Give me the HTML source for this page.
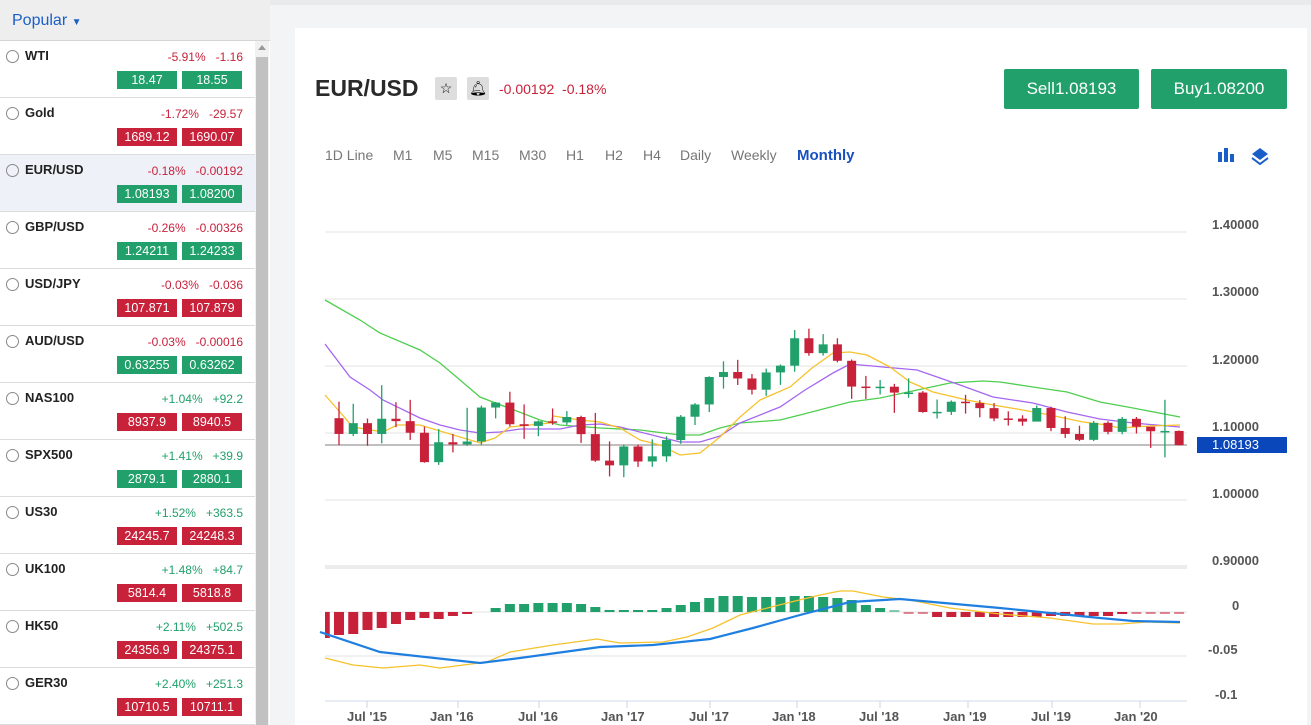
<!DOCTYPE html>
<html><head><meta charset="utf-8"><style>
*{box-sizing:border-box;margin:0;padding:0}
body{width:1311px;height:725px;overflow:hidden;background:#f3f4f6;font-family:"Liberation Sans",sans-serif;position:relative}
.side{position:absolute;left:0;top:0;width:270px;height:725px;background:#fff}
.hdr{position:absolute;left:0;top:0;width:270px;height:41px;background:#eeeeee;border-bottom:1px solid #d5d5d5}
.hdr span{position:absolute;left:12px;top:12px;font-size:16px;color:#1a5fc8}
.row{position:absolute;left:0;width:255px;height:57px;border-bottom:1px solid #dcdcdc}
.row .rad{position:absolute;left:6px;top:9px;width:13px;height:13px;border:1px solid #888;border-radius:50%}
.row .nm{position:absolute;left:25px;top:7px;font-size:13px;font-weight:bold;color:#222}
.row .ch{position:absolute;right:12px;top:9px;font-size:12px}
.row .b{position:absolute;top:30px;width:60px;height:18px;color:#fff;font-size:12.5px;text-align:center;line-height:18px}
.g{background:#21a06b}.r{background:#c8213a}
.scr{position:absolute;left:255px;top:41px;width:14px;height:684px;background:#f1f1f1}
.thumb{position:absolute;left:256px;top:57px;width:12px;height:668px;background:#c1c1c1}
.panel{position:absolute;left:295px;top:28px;width:1012px;height:697px;background:#fff}
.t{position:absolute;white-space:nowrap}
.btn{position:absolute;top:69px;height:40px;background:#21a06b;color:#fff;font-size:17px;text-align:center;line-height:40px;border-radius:2px}
.tf{position:absolute;top:147px;font-size:14px;color:#777}
.ax{position:absolute;left:1212px;font-size:13px;font-weight:bold;color:#555}
.xl{position:absolute;top:709px;font-size:13px;font-weight:bold;color:#555}
</style></head><body>
<div style="position:absolute;left:270px;top:0;width:1041px;height:5px;background:#e9eaec"></div>
<div class="side">
<div class="hdr"><span>Popular <span style="position:static;font-size:10px">&#9660;</span></span></div>
</div>
<div class="scr"></div><div class="thumb"></div>
<div style="position:absolute;left:258px;top:45px;width:0;height:0;border-left:4px solid transparent;border-right:4px solid transparent;border-bottom:5px solid #999"></div>
<div id="rows"></div>
<div class="panel"></div>
<div class="t" style="left:315px;top:75px;font-size:23px;font-weight:bold;color:#2a2a2a">EUR/USD</div>
<div class="t" style="left:435px;top:77px;width:22px;height:23px;background:#ddd;border-radius:2px;text-align:center;font-size:14px;line-height:23px">☆</div>
<div class="t" style="left:467px;top:77px;width:22px;height:23px;background:#ddd;border-radius:2px;text-align:center;font-size:14px;line-height:23px">🔔︎</div>
<div class="t" style="left:499px;top:81px;font-size:14px;color:#c8213a">-0.00192&nbsp;&nbsp;-0.18%</div>
<div class="btn" style="left:1004px;width:135px">Sell1.08193</div>
<div class="btn" style="left:1151px;width:136px">Buy1.08200</div>
<div class="tf" style="left:325px">1D Line</div><div class="tf" style="left:393px">M1</div><div class="tf" style="left:433px">M5</div>
<div class="tf" style="left:472px">M15</div><div class="tf" style="left:519px">M30</div><div class="tf" style="left:566px">H1</div>
<div class="tf" style="left:605px">H2</div><div class="tf" style="left:643px">H4</div><div class="tf" style="left:680px">Daily</div>
<div class="tf" style="left:731px">Weekly</div><div class="tf" style="left:797px;color:#1a4fc0;font-weight:bold;font-size:15px;top:147px">Monthly</div>
<svg class="t" style="left:1216px;top:146px" width="60" height="22"><g fill="#1a5fc8"><rect x="2" y="6" width="4" height="10"/><rect x="8" y="2" width="4" height="14"/><rect x="14" y="8" width="4" height="8"/><path d="M44 2l8 6-8 6-8-6z"/><path d="M36 12l8 6 8-6" fill="none" stroke="#1a5fc8" stroke-width="2"/></g></svg>
<svg id="ch" class="t" style="left:0;top:0" width="1311" height="725"></svg>
<div class="ax" style="top:217px">1.40000</div><div class="ax" style="top:284px">1.30000</div><div class="ax" style="top:352px">1.20000</div>
<div class="ax" style="top:419px">1.10000</div><div class="ax" style="top:486px">1.00000</div><div class="ax" style="top:553px">0.90000</div>
<div class="t" style="left:1197px;top:437px;width:90px;height:16px;background:#0a47bb;color:#fff;font-size:13px;line-height:16px;padding-left:15px">1.08193</div>
<div class="ax" style="top:598px;left:1232px">0</div><div class="ax" style="top:642px;left:1208px">-0.05</div><div class="ax" style="top:687px;left:1215px">-0.1</div>
<div class="xl" style="left:347px">Jul '15</div><div class="xl" style="left:430px">Jan '16</div><div class="xl" style="left:518px">Jul '16</div>
<div class="xl" style="left:601px">Jan '17</div><div class="xl" style="left:689px">Jul '17</div><div class="xl" style="left:772px">Jan '18</div>
<div class="xl" style="left:859px">Jul '18</div><div class="xl" style="left:943px">Jan '19</div><div class="xl" style="left:1031px">Jul '19</div><div class="xl" style="left:1114px">Jan '20</div>
<script>
var rows=[["WTI","-5.91%","-1.16","18.47","18.55","g"],["Gold","-1.72%","-29.57","1689.12","1690.07","r"],["EUR/USD","-0.18%","-0.00192","1.08193","1.08200","g"],["GBP/USD","-0.26%","-0.00326","1.24211","1.24233","g"],["USD/JPY","-0.03%","-0.036","107.871","107.879","r"],["AUD/USD","-0.03%","-0.00016","0.63255","0.63262","g"],["NAS100","+1.04%","+92.2","8937.9","8940.5","r"],["SPX500","+1.41%","+39.9","2879.1","2880.1","g"],["US30","+1.52%","+363.5","24245.7","24248.3","r"],["UK100","+1.48%","+84.7","5814.4","5818.8","r"],["HK50","+2.11%","+502.5","24356.9","24375.1","r"],["GER30","+2.40%","+251.3","10710.5","10711.1","r"]];
var h="";rows.forEach(function(r,i){var c=r[1][0]=="+"?"#21a06b":"#c8213a";
h+='<div class="row" style="top:'+(41+i*57)+'px;'+(i==2?'background:#eef2f8':'background:#fff')+'"><div class="rad"></div><div class="nm">'+r[0]+'</div><div class="ch" style="color:'+c+'">'+r[1]+'&nbsp;&nbsp;&nbsp;'+r[2]+'</div><div class="b '+r[5]+'" style="left:117px">'+r[3]+'</div><div class="b '+r[5]+'" style="left:182px">'+r[4]+'</div></div>';});
document.getElementById("rows").innerHTML=h;
var d=[[1.1221,1.1467,1.0819,1.0986],[1.0986,1.1436,1.0955,1.1147],[1.1147,1.1216,1.0809,1.0985],[1.0985,1.1714,1.0846,1.1213],[1.1213,1.1459,1.1087,1.1177],[1.1177,1.1495,1.0897,1.1004],[1.1004,1.1095,1.0557,1.0565],[1.0565,1.1059,1.0524,1.0862],[1.0862,1.0985,1.0711,1.0830],[1.0830,1.1376,1.0809,1.0873],[1.0873,1.1410,1.0823,1.1380],[1.1380,1.1464,1.1218,1.1454],[1.1454,1.1616,1.1097,1.1131],[1.1131,1.1427,1.0912,1.1106],[1.1106,1.1186,1.0952,1.1174],[1.1174,1.1366,1.1123,1.1158],[1.1158,1.1327,1.1122,1.1239],[1.1239,1.1258,1.0852,1.0983],[1.0983,1.1300,1.0569,1.0588],[1.0588,1.0875,1.0352,1.0517],[1.0517,1.0829,1.0340,1.0799],[1.0799,1.0829,1.0494,1.0575],[1.0575,1.0906,1.0495,1.0652],[1.0652,1.0951,1.0570,1.0895],[1.0895,1.1268,1.0839,1.1243],[1.1243,1.1445,1.1119,1.1426],[1.1426,1.1846,1.1312,1.1836],[1.1836,1.2070,1.1662,1.1910],[1.1910,1.2092,1.1717,1.1814],[1.1814,1.1880,1.1574,1.1646],[1.1646,1.1961,1.1554,1.1904],[1.1904,1.2023,1.1718,1.2005],[1.2005,1.2537,1.1915,1.2414],[1.2414,1.2556,1.2153,1.2192],[1.2192,1.2476,1.2155,1.2323],[1.2323,1.2414,1.2055,1.2078],[1.2078,1.2097,1.1510,1.1693],[1.1693,1.1852,1.1508,1.1684],[1.1684,1.1791,1.1575,1.1691],[1.1691,1.1734,1.1301,1.1603],[1.1603,1.1815,1.1526,1.1604],[1.1604,1.1625,1.1302,1.1313],[1.1313,1.1500,1.1216,1.1316],[1.1316,1.1486,1.1269,1.1467],[1.1467,1.1570,1.1289,1.1446],[1.1446,1.1489,1.1234,1.1371],[1.1371,1.1448,1.1176,1.1217],[1.1217,1.1324,1.1111,1.1215],[1.1215,1.1265,1.1107,1.1170],[1.1170,1.1412,1.1181,1.1373],[1.1373,1.1393,1.1028,1.1075],[1.1075,1.1250,1.0926,1.0986],[1.0986,1.1109,1.0879,1.0898],[1.0898,1.1179,1.0880,1.1152],[1.1152,1.1175,1.0981,1.1017],[1.1017,1.1239,1.0981,1.1212],[1.1212,1.1239,1.0992,1.1094],[1.1094,1.1053,1.0778,1.1026],[1.1026,1.1496,1.0636,1.1031],[1.1031,1.1037,1.0815,1.0819]];
function Y(p){return 433-(p-1.1)*670}
var s="";
[232,299,366,433,500].forEach(function(y){s+='<line x1="325" x2="1187" y1="'+y+'" y2="'+y+'" stroke="#e3e3e3"/>'});
s+='<rect x="325" y="565" width="862" height="4" fill="#ececec"/>';
s+='<line x1="325" x2="1187" y1="612" y2="612" stroke="#e3e3e3"/><line x1="325" x2="1187" y1="656" y2="656" stroke="#e3e3e3"/><line x1="325" x2="1187" y1="701" y2="701" stroke="#d3dbe8"/>';
[367,458,539,627,710,797,880,968,1052,1140].forEach(function(x){s+='<line x1="'+x+'" x2="'+x+'" y1="701" y2="708" stroke="#c8d3e6"/>'});
s+='<line x1="325" x2="1187" y1="445" y2="445" stroke="#999" stroke-width="1.2"/>';
function pl(pts,c,w){return '<polyline fill="none" stroke="'+c+'" stroke-width="'+w+'" points="'+pts+'"/>'}
s+=pl("325,300 360,320 380,333 420,350 440,363 480,397 540,420 560,425 600,428 640,430 680,435 700,435 720,428 740,423 780,420 800,415 850,402 880,398 950,383 983,381 1000,382 1033,387 1067,392 1100,402 1133,408 1180,417","#4fce4f",1.3);
s+=pl("325,344 350,377 370,390 383,400 420,418 440,425 460,430 480,433 500,432 520,429 560,429 580,425 600,424 620,427 660,437 680,442 700,442 720,436 740,423 780,407 805,390 833,373 850,364 883,367 917,370 940,378 960,385 993,397 1033,403 1067,412 1100,419 1133,423 1180,427","#a566f0",1.3);
s+=pl("325,395 353,427 383,432 397,425 420,425 440,431 480,443 495,438 510,427 550,423 553,416 580,420 600,422 620,428 640,440 660,445 680,455 700,453 720,437 740,417 760,400 790,387 812,368 833,353 850,352 867,355 890,367 910,382 933,392 967,400 993,405 1017,409 1050,415 1083,422 1107,425 1120,428 1150,426 1180,425","#f6c22c",1.3);
d.forEach(function(c,i){var x=339+i*14.24,up=c[3]>=c[0],col=up?"#21a06b":"#c8213a";var t=Y(Math.max(c[0],c[3])),b=Y(Math.min(c[0],c[3]));if(b-t<1.5){b=t+1.5}
s+='<line x1="'+x+'" x2="'+x+'" y1="'+Y(c[1])+'" y2="'+Y(c[2])+'" stroke="'+col+'" stroke-width="1.3"/><rect x="'+(x-4.5)+'" y="'+t+'" width="9" height="'+(b-t)+'" fill="'+col+'"/>';});
var hv=[-26,-23,-22,-18,-16,-12,-8,-6,-7,-4,-2,0,4,8,8,9,9,9,8,5,2,2,2,2,4,7,10,14,16,16,15,15,15,16,16,15,14,12,7,4,1,-1,-1,-5,-5,-5,-5,-5,-5,-5,-5,-4,-4,-4,-4,-4,-2,-1,-1,-1,-1];
hv.forEach(function(v,k){var x=339+(k-1)*14.24;if(v==0)return;var col=v>0?"#21a06b":"#c8213a";var op=Math.abs(v)<=1?0.55:1;var h=Math.max(Math.abs(v),2);var y=v>0?612-h:612;var x0=Math.max(x-5,325);var w=x+5-x0;
s+='<rect x="'+x0+'" y="'+y+'" width="'+w+'" height="'+h+'" fill="'+col+'" opacity="'+op+'"/>';});
s+=pl("325,658 353,665 383,668 420,665 440,668 487,662 510,652 553,645 597,639 620,643 663,642 687,637 713,628 740,615 787,603 820,595 840,591 853,591 883,597 910,600 950,608 1000,614 1050,618 1093,624 1120,624 1147,622 1180,623","#f6c22c",1.3);
s+=pl("320,632 380,652 480,663 520,658 600,647 653,645 710,639 753,628 800,615 850,602 900,599 933,602 1000,608 1050,613 1100,618 1133,621 1180,622","#1f7fe0",2.2);
document.getElementById("ch").innerHTML=s;
</script>
</body></html>
